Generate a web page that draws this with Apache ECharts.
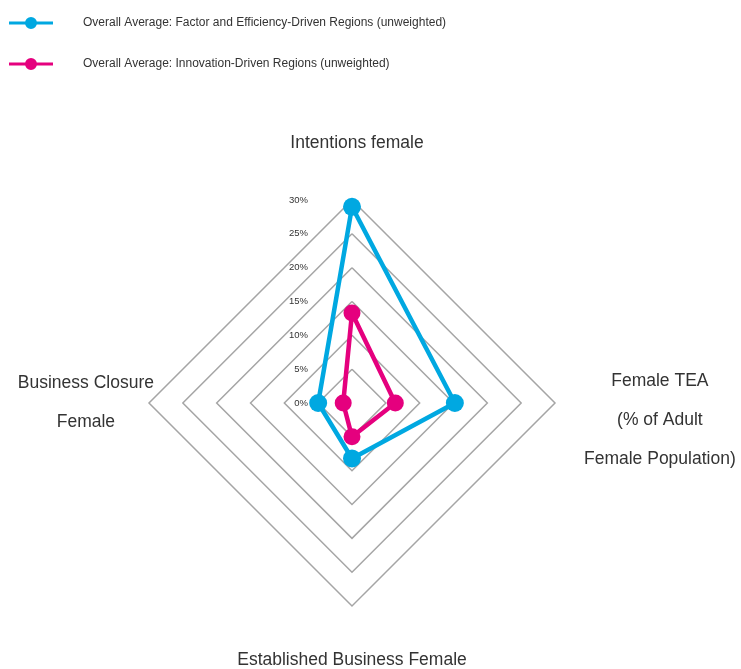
<!DOCTYPE html>
<html>
<head>
<meta charset="utf-8">
<script src="https://cdn.jsdelivr.net/npm/echarts@6/dist/echarts.min.js"></script>
<style>
  html, body { margin: 0; padding: 0; background: #fff; }
  #chart { width: 741px; height: 669px; }
</style>
</head>
<body>
<div id="chart"></div>
<script>
// indicators (counter-clockwise from top)
var indicators = ['Intentions female', 'Business Closure Female', 'Established Business Female', 'Female TEA (% of Adult Female Population)'];
var seriesNames = ['Overall Average: Factor and Efficiency-Driven Regions (unweighted)', 'Overall Average: Innovation-Driven Regions (unweighted)'];
// values in %
var factorEfficiency = [29.0, 5.0, 8.2, 15.2];
var innovation = [13.3, 1.3, 5.0, 6.4];
var axisMax = 30;
var axisSplits = 6;

var FONT = '"Liberation Sans", Arial, sans-serif';
var BLUE = '#00a8e1', PINK = '#e5007e';
var CENTER = [352, 403], RADIUS = 203;

// legend icon: line with a dot in the middle
var lineDot = 'path://M0,5.5 L44,5.5 L44,8.5 L0,8.5 Z M16,7 A6,6 0 1,1 28,7 A6,6 0 1,1 16,7 Z';

var chart = echarts.init(document.getElementById('chart'));

function rs(extra) {
    var s = { fontFamily: FONT, fontSize: 17.5, color: '#333', align: 'center' };
    for (var k in extra) s[k] = extra[k];
    return s;
}

var option = {
    backgroundColor: '#fff',
    legend: {
        orient: 'vertical',
        left: 4,
        top: 8,
        itemWidth: 44,
        itemHeight: 14,
        itemGap: 21,
        icon: lineDot,
        data: seriesNames,
        textStyle: {
            color: '#333',
            fontFamily: FONT,
            fontSize: 12,
            lineHeight: 20,
            padding: [0, 0, 0, 25]
        }
    },
    radar: [{
        center: CENTER,
        radius: RADIUS,
        shape: 'polygon',
        startAngle: 90,
        splitNumber: axisSplits,
        nameGap: -5,
        indicator: indicators.map(function (n) { return { name: n, min: 0, max: axisMax }; }),
        axisName: {
            color: '#333',
            fontFamily: FONT,
            fontSize: 17.5,
            formatter: function (name) {
                if (name === indicators[0]) return '{t|Intentions female}';
                if (name === indicators[1]) return '{l|Business Closure}\n{l|Female}';
                if (name === indicators[2]) return '{b|Established Business Female}';
                return '{r|Female TEA}\n{r|(% of Adult}\n{r|Female Population)}';
            },
            rich: {
                t: rs({ lineHeight: 20, padding: [0, 0, 103, 10] }),
                l: rs({ lineHeight: 39, padding: [0, 0, 0, 0] }),
                b: rs({ lineHeight: 20, padding: [98, 0, 0, 0] }),
                r: rs({ lineHeight: 39, padding: [34, 0, 0, 34] })
            }
        },
        axisLine: { show: false },
        axisTick: { show: false },
        axisLabel: { show: false },
        splitArea: { show: false },
        splitLine: { lineStyle: { color: '#a5a5a5', width: 1.5 } }
    }, {
        // single upward axis that only carries the % labels
        center: CENTER,
        radius: RADIUS,
        startAngle: 90,
        splitNumber: axisSplits,
        indicator: [{ name: '', min: 0, max: axisMax }],
        axisName: { show: false },
        axisLine: { show: false },
        axisTick: { show: false },
        splitArea: { show: false },
        splitLine: { show: false },
        axisLabel: {
            show: true,
            color: '#333',
            fontFamily: FONT,
            fontSize: 9.5,
            margin: 44,
            formatter: '{value}%'
        }
    }],
    series: [{
        type: 'radar',
        radarIndex: 0,
        data: [{
            name: seriesNames[0],
            value: factorEfficiency,
            symbol: 'circle',
            symbolSize: 18,
            itemStyle: { color: BLUE },
            lineStyle: { color: BLUE, width: 4.5 }
        }, {
            name: seriesNames[1],
            value: innovation,
            symbol: 'circle',
            symbolSize: 17,
            itemStyle: { color: PINK },
            lineStyle: { color: PINK, width: 4.5 }
        }]
    }]
};

chart.setOption(option);
</script>
</body>
</html>
